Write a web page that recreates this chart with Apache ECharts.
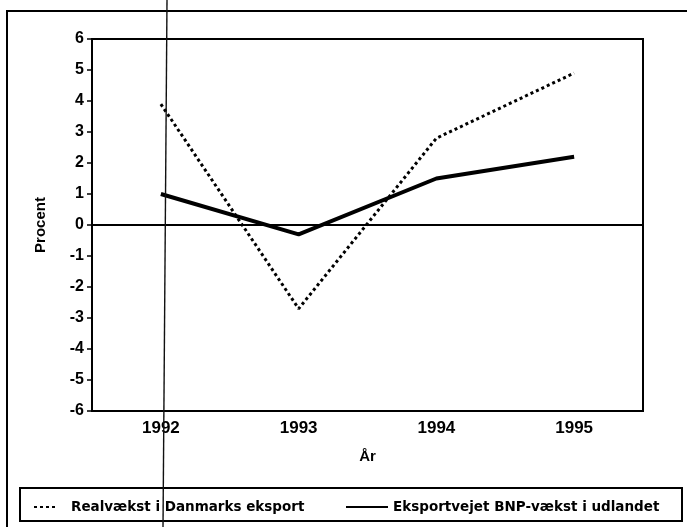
<!DOCTYPE html>
<html><head><meta charset="utf-8">
<script src="https://cdn.jsdelivr.net/npm/echarts@6/dist/echarts.min.js"></script>
<style>html,body{margin:0;padding:0;background:#fff;}#c{width:687px;height:527px;}</style>
</head><body><div id="c"></div>
<script>
const years = ['1992', '1993', '1994', '1995'];
const realvaekst = [3.9, -2.7, 2.8, 4.9];
const bnpVaekst = [1.0, -0.3, 1.5, 2.2];
const yTicks = [-6, -5, -4, -3, -2, -1, 0, 1, 2, 3, 4, 5, 6];
const seriesNames = ['Realvækst i Danmarks eksport', 'Eksportvejet BNP-vækst i udlandet'];

const FONT = 'Liberation Sans';
const chart = echarts.init(document.getElementById('c'), null, {renderer: 'canvas'});
chart.setOption({
  animation: false,
  backgroundColor: '#fff',
  grid: {left: 92, right: 44, top: 39, bottom: 116, show: true, borderColor: '#000', borderWidth: 2},
  xAxis: {
    type: 'category', data: years, boundaryGap: true,
    name: 'År', nameLocation: 'middle', nameGap: 38,
    nameTextStyle: {fontFamily: FONT, fontWeight: 'bold', fontSize: 15, color: '#000'},
    axisLine: {lineStyle: {color: '#000', width: 2}},
    axisTick: {alignWithLabel: true, length: 5, lineStyle: {color: '#000', width: 1.5}},
    axisLabel: {fontFamily: FONT, fontWeight: 'bold', fontSize: 17, color: '#000', margin: 9}
  },
  yAxis: {
    type: 'value', min: yTicks[0], max: yTicks[yTicks.length - 1], interval: 1,
    name: 'Procent', nameLocation: 'middle', nameGap: 44, nameRotate: 90,
    nameTextStyle: {fontFamily: FONT, fontWeight: 'bold', fontSize: 15, color: '#000'},
    axisLine: {show: true, lineStyle: {color: '#000', width: 2}},
    axisTick: {show: true, length: 5, lineStyle: {color: '#000', width: 1.5}},
    splitLine: {show: false},
    axisLabel: {fontFamily: FONT, fontWeight: 'bold', fontSize: 16, color: '#000', margin: 8}
  },
  legend: [
    {data: [seriesNames[0]], left: 28, top: 495, itemWidth: 24, itemHeight: 10, itemGap: 10,
     itemStyle: {opacity: 0},
     textStyle: {fontFamily: 'DejaVu Sans', fontWeight: 'bold', fontSize: 13.5, color: '#000', padding: [0, 0, 0, 8]}},
    {data: [seriesNames[1]], left: 340, top: 495, itemWidth: 42, itemHeight: 10,
     itemStyle: {opacity: 0},
     textStyle: {fontFamily: 'DejaVu Sans', fontWeight: 'bold', fontSize: 13.5, color: '#000'}}
  ],
  series: [
    {name: seriesNames[0], type: 'line', data: realvaekst, symbol: 'none',
     lineStyle: {color: '#000', width: 3, type: [3, 3]}, itemStyle: {color: '#000'},
     markLine: {silent: true, symbol: 'none', label: {show: false},
       lineStyle: {color: '#000', width: 2, type: 'solid'}, data: [{yAxis: 0}]}},
    {name: seriesNames[1], type: 'line', data: bnpVaekst, symbol: 'none',
     lineStyle: {color: '#000', width: 4, type: 'solid'}, itemStyle: {color: '#000'}}
  ],
  graphic: [
    {type: 'rect', shape: {x: 7, y: 11, width: 700, height: 600}, style: {fill: null, stroke: '#000', lineWidth: 2}, silent: true},
    {type: 'rect', shape: {x: 20, y: 488, width: 662, height: 33}, style: {fill: null, stroke: '#000', lineWidth: 2}, silent: true},
    {type: 'line', shape: {x1: 167, y1: 0, x2: 163, y2: 527}, style: {stroke: '#111', lineWidth: 1.4}, silent: true, z: 100}
  ]
});
</script></body></html>
